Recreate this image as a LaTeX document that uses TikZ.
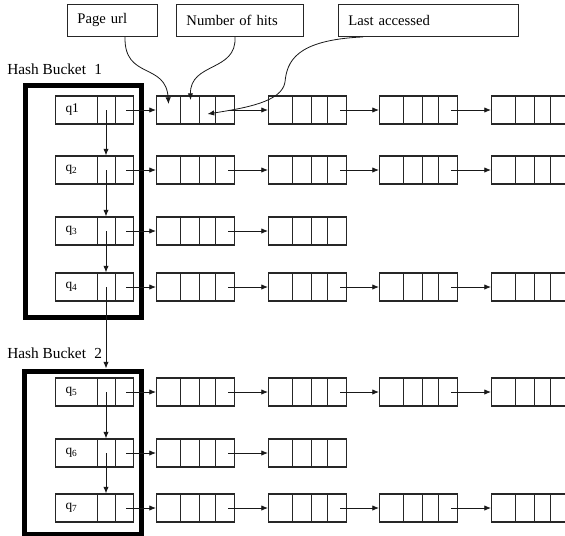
\documentclass[tikz,border=0pt]{standalone}
\usepackage{fontspec}
\setmainfont{Liberation Serif}
\usetikzlibrary{arrows.meta,calc}
\newcommand\pxu{0.75pt}
\tikzset{
  cellbox/.style={draw=black!85, line width=0.8pt, minimum height=28*\pxu, inner sep=0pt, anchor=west},
  elem/.style={cellbox, minimum width=78*\pxu,
    path picture={\foreach \d in {24,43,59}
      \draw[black!85, line width=0.8pt] ([xshift=\d*\pxu]path picture bounding box.north west) -- ([xshift=\d*\pxu]path picture bounding box.south west);}},
  qnode/.style={cellbox, minimum width=78*\pxu, text width=58*\pxu, inner xsep=10*\pxu, inner ysep=0pt,
    align=left, font=\fontsize{10}{12}\selectfont,
    path picture={\foreach \d in {42,60}
      \draw[black!85, line width=0.8pt] ([xshift=\d*\pxu]path picture bounding box.north west) -- ([xshift=\d*\pxu]path picture bounding box.south west);}},
  bucket/.style={draw=black, line width=3.75pt, inner sep=0pt},
  lbl/.style={draw=black!85, line width=0.7pt, minimum height=32*\pxu, inner xsep=10*\pxu, inner ysep=0pt,
    align=left, anchor=north west, font=\fontsize{11}{13}\selectfont},
  hb/.style={anchor=base west, inner sep=0pt, font=\fontsize{11.5}{14}\selectfont},
  arr/.style={draw=black!90, line width=0.6pt, -{Latex[length=5pt,width=4pt]}},
}
\begin{document}
\begin{tikzpicture}[x=0.75pt,y=-0.75pt]
\useasboundingbox (0,0) rectangle (565,536);
\clip (0,0) rectangle (565,536);

% label boxes
\node[lbl, minimum width=90*\pxu, text width=70*\pxu] (pu) at (67,4) {Page url};
\node[lbl, minimum width=127*\pxu, text width=107*\pxu] (nh) at (176,4) {Number of hits};
\node[lbl, minimum width=180*\pxu, text width=160*\pxu] (la) at (338,4) {Last accessed};

% hash bucket labels
\node[hb] (hb1) at (7,74) {Hash Bucket\hspace{0.3em} 1};
\node[hb] (hb2) at (7,358) {Hash Bucket\hspace{0.3em} 2};

% buckets
\node[bucket, minimum width=115.5*\pxu, minimum height=232*\pxu] (b1) at (83.25,201) {};
\node[bucket, minimum width=117*\pxu, minimum height=163*\pxu] (b2) at (83,452.5) {};

% queue nodes
\node[qnode] (q1) at (55,110) {q1};
\node[qnode] (q2) at (55,170) {q\textsubscript{2}};
\node[qnode] (q3) at (55,231) {q\textsubscript{3}};
\node[qnode] (q4) at (55,287) {q\textsubscript{4}};
\node[qnode] (q5) at (55,392) {q\textsubscript{5}};
\node[qnode] (q6) at (55,453) {q\textsubscript{6}};
\node[qnode] (q7) at (55,508) {q\textsubscript{7}};

% element chains
\foreach \i/\y/\n in {1/110/4,2/170/4,3/231/2,4/287/4,5/392/4,6/453/2,7/508/4}{
  \foreach \j/\xx in {1/156,2/268,3/379,4/491}{
    \ifnum\j>\n\relax\else
      \node[elem] (e\i\j) at (\xx,\y) {};
    \fi
  }
  \draw[arr] ([xshift=-6pt]q\i.east) -- (e\i1.west);
  \foreach \j in {2,...,\n}{
    \pgfmathtruncatemacro\p{\j-1}
    \draw[arr] ([xshift=-5.25pt]e\i\p.east) -- (e\i\j.west);
  }
}

% vertical links between queue nodes
\foreach \a/\b in {1/2,2/3,3/4,5/6,6/7}{
  \draw[arr] ([xshift=38.25pt]q\a.west) -- ([xshift=38.25pt]q\b.north west);
}
\coordinate (q4m) at ([xshift=38.25pt]q4.west);
\draw[arr] (q4m) -- (q4m |- b2.north);

% field callouts
\coordinate (sA) at ([shift={(58,0)}]pu.south west);
\coordinate (sB) at ([shift={(59,0)}]nh.south west);
\coordinate (sC) at ([shift={(25,0)}]la.south west);
\coordinate (tA) at ([shift={(-27,-6)}]e11.center);
\coordinate (tB) at ([shift={(-5,-10)}]e11.center);
\coordinate (tC) at ([shift={(12,4)}]e11.center);
\draw[arr] (sA) .. controls (124,80) and (166,62) .. (tA);
\draw[arr] (sB) .. controls (237,72) and (190,62) .. (tB);
\draw[arr] (sC) .. controls (295,40) and (287,62) .. (285,82) .. controls (282,102) and (245,108) .. (tC);
\end{tikzpicture}
\end{document}
